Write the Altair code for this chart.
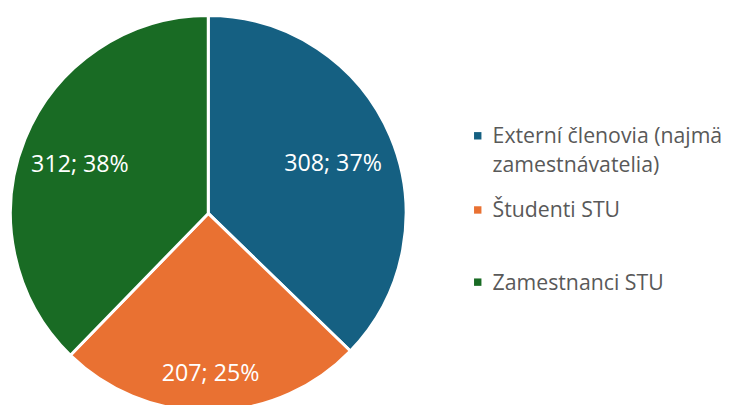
import altair as alt
import pandas as pd

categories = ["Externí členovia (najmä zamestnávatelia)", "Študenti STU", "Zamestnanci STU"]
values = [308, 207, 312]
percents = ["37%", "25%", "38%"]
colors = ["#156082", "#E97132", "#196B24"]
legend_lines = [["Externí členovia (najmä", "zamestnávatelia)"], ["Študenti STU"], ["Zamestnanci STU"]]

df = pd.DataFrame({
    "cat": categories,
    "val": values,
    "idx": list(range(len(values))),
    "label": [f"{v}; {p}" for v, p in zip(values, percents)],
})

CX, CY, R = 202.5, 205.5, 200
FONT = "Open Sans"

color = alt.Color("cat:N", scale=alt.Scale(domain=categories, range=colors), legend=None)

base = alt.Chart(df).encode(
    theta=alt.Theta("val:Q", stack=True),
    order=alt.Order("idx:Q"),
    x=alt.value(CX), y=alt.value(CY),
)

pie = base.mark_arc(outerRadius=R, stroke="white", strokeWidth=3).encode(color=color)

label_radii = [137, 158, 140]
labels = []
for i, rr in enumerate(label_radii):
    labels.append(
        base.mark_text(radius=rr, dy=4, fontSize=23.5, font=FONT, color="white")
        .encode(text=alt.condition(f"datum.idx == {i}", "label:N", alt.value("")))
    )

# manual legend
sq_y = [127, 202, 275]
txt_y = [[134, 164], [209], [283]]
leg = []
for i in range(3):
    leg.append(
        alt.Chart(pd.DataFrame({"cat": [categories[i]]})).mark_square(size=56, opacity=1)
        .encode(x=alt.value(475), y=alt.value(sq_y[i]), color=color)
    )
    for j, line in enumerate(legend_lines[i]):
        leg.append(
            alt.Chart(pd.DataFrame({"t": [line]})).mark_text(
                align="left", baseline="alphabetic", fontSize=21.5, font=FONT, color="#595959"
            ).encode(x=alt.value(490), y=alt.value(txt_y[i][j]), text="t:N")
        )

chart = alt.layer(pie, *labels, *leg).properties(
    width=722, height=397, autosize=alt.AutoSizeParams(type="none"), padding=0
).configure_view(stroke=None)

chart.save("out.html", embed_options={"renderer": "svg", "actions": False})
